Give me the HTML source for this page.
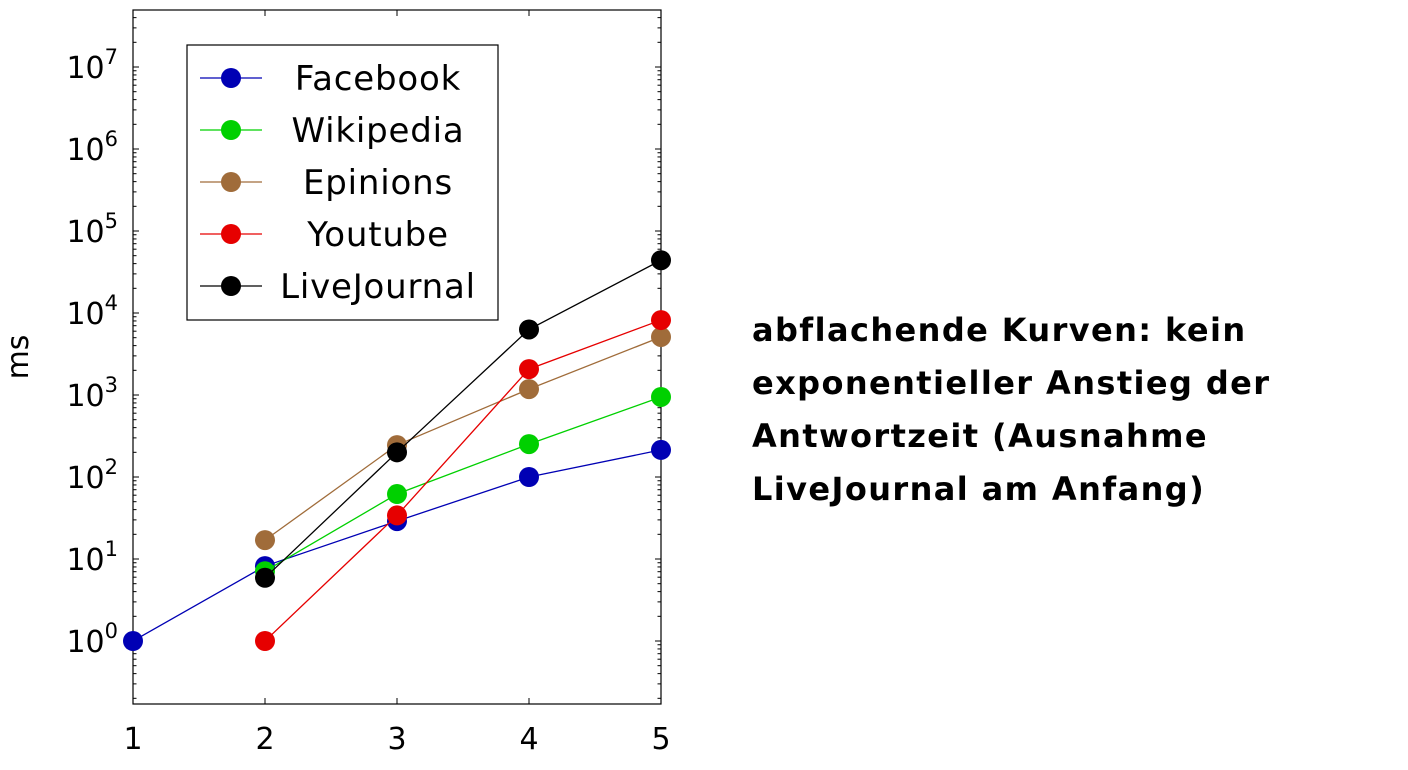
<!DOCTYPE html>
<html><head><meta charset="utf-8"><style>
body{margin:0;background:#fff;width:1408px;height:770px;overflow:hidden;font-family:"DejaVu Sans","Liberation Sans",sans-serif}
#note{position:absolute;left:752px;top:304px;font-size:32px;font-weight:bold;line-height:53px;color:#000;font-family:"DejaVu Sans","Liberation Sans",sans-serif;letter-spacing:1.4px}
</style></head><body>
<svg id="chart" width="1408" height="770" style="position:absolute;left:0;top:0"></svg>
<div id="note">abflachende Kurven: kein<br>exponentieller Anstieg der<br>Antwortzeit (Ausnahme<br>LiveJournal am Anfang)</div>
<script>
const categories=[1,2,3,4,5];
const seriesNames=["Facebook","Wikipedia","Epinions","Youtube","LiveJournal"];
const facebook=[1,8.2,29,100,214];
const wikipedia=[null,7.1,62,252,946];
const epinions=[null,17,245,1180,5100];
const youtube=[null,1,34,2070,8200];
const livejournal=[null,5.9,200,6300,44000];
const yTickExps=[0,1,2,3,4,5,6,7];
const colors=["#0000b4","#00d000","#a06c3a","#e60000","#000000"];
const allSeries=[facebook,wikipedia,epinions,youtube,livejournal];

const NS="http://www.w3.org/2000/svg";
const svg=document.getElementById('chart');
const L=133,R=661,T=10,B=704;
const yMinE=-63/82,yMaxE=7+57/82;
const xs=v=>L+(v-1)/(4)*(R-L);
const ys=v=>B-(Math.log10(v)-yMinE)/(yMaxE-yMinE)*(B-T);
function mk(tag,attrs,name,parent){const e=document.createElementNS(NS,tag);for(const k in attrs)e.setAttribute(k,attrs[k]);


(parent||svg).appendChild(e);return e;}
for(const c of categories){const x=xs(c);
mk('line',{x1:x,x2:x,y1:B,y2:B-6,stroke:'#000','stroke-width':1},'x-tick');
mk('line',{x1:x,x2:x,y1:T,y2:T+6,stroke:'#000','stroke-width':1},'x-tick-top');
const t=mk('text',{x:x,y:B+45,'font-size':30,'text-anchor':'middle'},'x-tick-label');t.textContent=c;}
for(let e=-1;e<=7;e++){for(let m=1;m<10;m++){const v=m*Math.pow(10,e);const y=ys(v);if(y<T||y>B)continue;const len=m===1?6:3.5;
mk('line',{x1:L,x2:L+len,y1:y,y2:y,stroke:'#000','stroke-width':1},'y-tick');
mk('line',{x1:R,x2:R-len,y1:y,y2:y,stroke:'#000','stroke-width':1},'y-tick-right');}}
for(const e of yTickExps){const y=ys(Math.pow(10,e));
const t=mk('text',{x:118,y:y+11,'font-size':30,'text-anchor':'end'},'y-tick-label');
t.textContent='10';const s=document.createElementNS(NS,'tspan');s.setAttribute('dy',-14);s.setAttribute('font-size',21);s.textContent=e;t.appendChild(s);}
const yt=mk('text',{x:0,y:0,'font-size':30,'text-anchor':'middle',transform:'translate(28,357) rotate(-90)'},'y-axis-title');yt.textContent='ms';
mk('rect',{x:L,y:T,width:R-L,height:B-T,fill:'none',stroke:'#000','stroke-width':1.2},'plot-frame');
allSeries.forEach((d,i)=>{const g=mk('g',{},'series-'+seriesNames[i].toLowerCase());
const pts=[];d.forEach((v,j)=>{if(v!=null)pts.push([xs(categories[j]),ys(v)]);});
mk('polyline',{points:pts.map(p=>p.join(',')).join(' '),fill:'none',stroke:colors[i],'stroke-width':1.3},'line',g);
pts.forEach(p=>mk('circle',{cx:p[0],cy:p[1],r:10,fill:colors[i]},'point',g));});
const lg=mk('g',{},'legend');
mk('rect',{x:187,y:45,width:311,height:275,fill:'#fff',stroke:'#000','stroke-width':1.2},'legend-box',lg);
seriesNames.forEach((n,i)=>{const y=78+i*52;const g=mk('g',{},'legend-entry',lg);
mk('line',{x1:200,x2:262,y1:y,y2:y,stroke:colors[i],'stroke-width':1.3},'legend-line',g);
mk('circle',{cx:231,cy:y,r:10,fill:colors[i]},'legend-marker',g);
const t=mk('text',{x:378,y:y+12,'font-size':34,'text-anchor':'middle','letter-spacing':0.8},'legend-label',g);t.textContent=n;});
</script>
</body></html>
